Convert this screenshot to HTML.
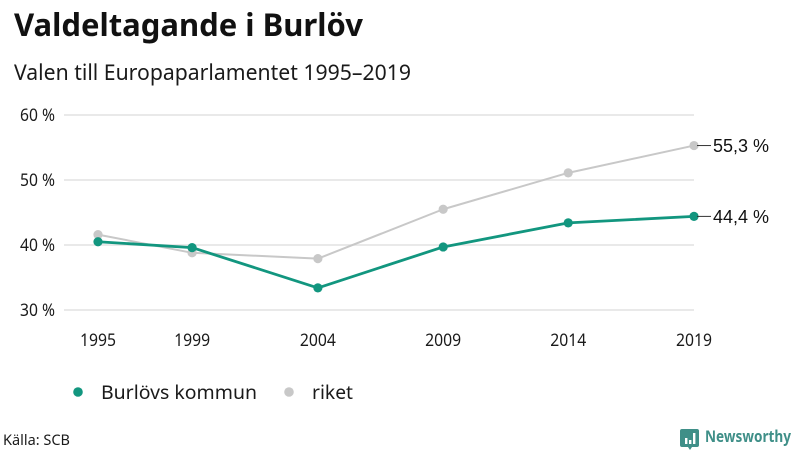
<!DOCTYPE html>
<html lang="sv">
<head>
<meta charset="utf-8">
<title>Valdeltagande i Burlöv</title>
<style>
html,body{margin:0;padding:0;background:#fff;width:800px;height:450px;overflow:hidden}
svg{display:block}
text{font-family:"Noto Sans","Open Sans","DejaVu Sans","Liberation Sans",sans-serif;fill:#1a1a1a}
</style>
</head>
<body>
<svg id="chart" xmlns="http://www.w3.org/2000/svg" width="800" height="450" viewBox="0 0 800 450">
<rect width="800" height="450" fill="#fff"/>
<text x="14" y="36" font-size="31" font-weight="700" textLength="349" lengthAdjust="spacingAndGlyphs" style="fill:#111">Valdeltagande i Burlöv</text>
<text x="14" y="80" font-size="21.5" textLength="397" lengthAdjust="spacingAndGlyphs">Valen till Europaparlamentet 1995–2019</text>
<g id="grid"></g>
<g id="yticks"></g>
<g id="xticks"></g>
<g id="series"></g>
<g>
<circle cx="78" cy="392" r="4.8" fill="#12967f"/>
<text x="101" y="399" font-size="19.5" textLength="156" lengthAdjust="spacingAndGlyphs">Burlövs kommun</text>
<circle cx="289" cy="392" r="4.8" fill="#c8c8c8"/>
<text x="312" y="399" font-size="19.5" textLength="41" lengthAdjust="spacingAndGlyphs">riket</text>
</g>
<text x="3" y="445" font-size="14.5" textLength="67" lengthAdjust="spacingAndGlyphs">Källa: SCB</text>
<g>
<path d="M682 429h15a2 2 0 0 1 2 2v14a2 2 0 0 1-2 2h-5l-2 3-2-3h-6a2 2 0 0 1-2-2v-14a2 2 0 0 1 2-2z" fill="#3f8f88"/>
<path d="M685 438h2.4v6h-2.4zM689 440h2.4v4h-2.4zM693 433h2.4v11h-2.4z" fill="#fff"/>
<text x="705" y="442" font-size="16" font-weight="700" textLength="86" lengthAdjust="spacingAndGlyphs" style="fill:#3f8f88">Newsworthy</text>
</g>
</svg>
<script>
const electionDates = [1995.71, 1999.45, 2004.45, 2009.43, 2014.40, 2019.40];
const xTickLabels = ["1995", "1999", "2004", "2009", "2014", "2019"];
const burlovValues = [40.5, 39.6, 33.4, 39.7, 43.4, 44.4];
const riketValues = [41.6, 38.8, 37.9, 45.5, 51.1, 55.3];
const yTickValues = [30, 40, 50, 60];
const endLabelBurlov = "44,4 %";
const endLabelRiket = "55,3 %";

const NS = "http://www.w3.org/2000/svg";
function xScale(d) { return 98 + (d - 1995.71) * (694 - 98) / (2019.40 - 1995.71); }
function yScale(v) { return 310 - (v - 30) * 6.5; }
function make(tag, attrs, parent, content) {
  const el = document.createElementNS(NS, tag);
  for (const k in attrs) el.setAttribute(k, attrs[k]);
  if (content !== undefined) el.textContent = content;
  parent.appendChild(el);
  return el;
}
const grid = document.getElementById("grid");
const yticks = document.getElementById("yticks");
const xticks = document.getElementById("xticks");
const seriesGroup = document.getElementById("series");

yTickValues.forEach(function (v) {
  const line = make("line", { x1: 64, x2: 694, y1: yScale(v), y2: yScale(v), stroke: "#e2e2e2", "stroke-width": 1.6 }, grid);
  
  
  const label = make("text", { x: 20, y: yScale(v) + 6, "font-size": 17, textLength: 35, lengthAdjust: "spacingAndGlyphs" }, yticks, v + " %");
  
  
});

xTickLabels.forEach(function (t, i) {
  const label = make("text", { x: xScale(electionDates[i]) - 18, y: 346, "font-size": 17, textLength: 36, lengthAdjust: "spacingAndGlyphs" }, xticks, t);
  
  
});

function drawSeries(values, color, width, radius, key) {
  const pts = values.map(function (v, i) { return xScale(electionDates[i]) + "," + yScale(v); }).join(" ");
  const line = make("polyline", { points: pts, fill: "none", stroke: color, "stroke-width": width, "stroke-linejoin": "round" }, seriesGroup);
  
  
  values.forEach(function (v, i) {
    const dot = make("circle", { cx: xScale(electionDates[i]), cy: yScale(v), r: radius, fill: color }, seriesGroup);
    
    
  });
}
function drawEndLabel(values, text, key) {
  const last = values[values.length - 1];
  const y = yScale(last);
  const lead = make("line", { x1: 697, x2: 711, y1: y, y2: y, stroke: "#333", "stroke-width": 1 }, seriesGroup);
  
  
  const label = make("text", { x: 713, y: y + 6.5, "font-size": 18, style: 'font-family:"Liberation Sans",sans-serif;fill:#111' }, seriesGroup, text);
  
  
}
drawSeries(riketValues, "#c8c8c8", 2, 4.6, "riket");
drawSeries(burlovValues, "#12967f", 2.8, 4.6, "burlov");
drawEndLabel(riketValues, endLabelRiket, "riket");
drawEndLabel(burlovValues, endLabelBurlov, "burlov");
</script>
</body>
</html>
